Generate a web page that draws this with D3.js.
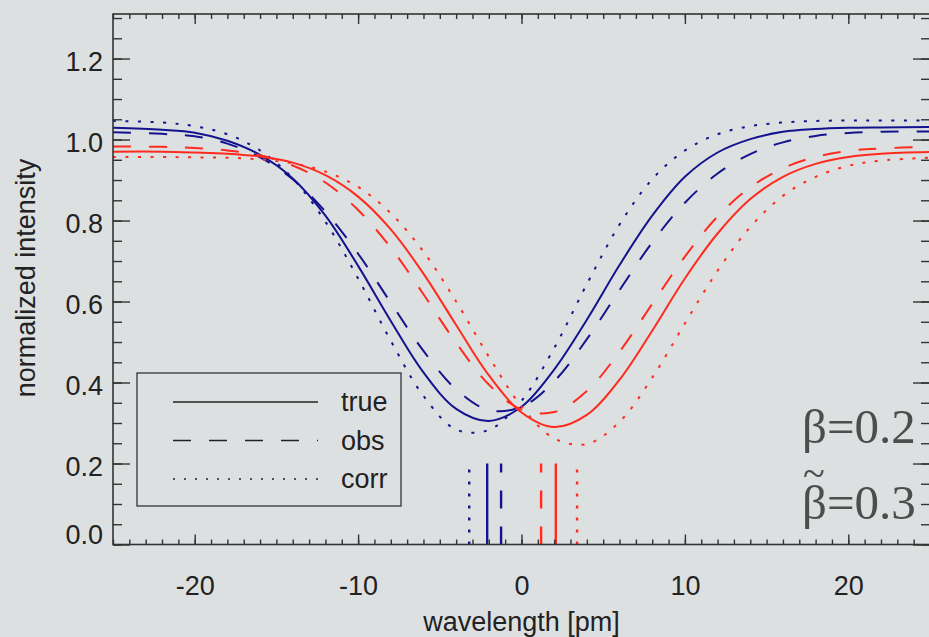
<!DOCTYPE html>
<html>
<head>
<meta charset="utf-8">
<script src="https://cdn.jsdelivr.net/npm/d3@7"></script>
<style>
  html, body { margin: 0; padding: 0; background: #dde0e1; }
  svg { display: block; font-family: "Liberation Sans", Arial, Helvetica, sans-serif; }
</style>
</head>
<body>
<div id="chart"></div>
<script>
// wavelength grid [pm] and line profiles
var wavelength = [-25, -22, -20, -18, -16, -14, -12, -10, -8, -6, -4, -2, 0, 2, 4, 6, 8, 10, 12, 14, 16, 18, 20, 22, 25];

var blueTrue = [1.029, 1.024, 1.017, 0.997, 0.962, 0.904, 0.812, 0.688, 0.552, 0.425, 0.335, 0.305, 0.340, 0.432, 0.555, 0.690, 0.812, 0.908, 0.968, 1.001, 1.019, 1.026, 1.029, 1.030, 1.031];
var blueObs  = [1.018, 1.014, 1.008, 0.990, 0.956, 0.902, 0.822, 0.718, 0.597, 0.478, 0.383, 0.332, 0.340, 0.403, 0.507, 0.628, 0.746, 0.844, 0.916, 0.964, 0.993, 1.009, 1.016, 1.019, 1.020];
var blueCorr = [1.046, 1.042, 1.033, 1.013, 0.973, 0.904, 0.797, 0.657, 0.503, 0.367, 0.284, 0.283, 0.355, 0.485, 0.643, 0.790, 0.902, 0.973, 1.013, 1.033, 1.042, 1.046, 1.047, 1.047, 1.047];
var redTrue  = [0.970, 0.970, 0.968, 0.965, 0.958, 0.943, 0.912, 0.859, 0.778, 0.669, 0.542, 0.418, 0.326, 0.290, 0.320, 0.407, 0.528, 0.657, 0.768, 0.853, 0.908, 0.940, 0.957, 0.965, 0.969];
var redObs   = [0.983, 0.982, 0.979, 0.973, 0.961, 0.936, 0.894, 0.826, 0.733, 0.618, 0.498, 0.395, 0.333, 0.327, 0.379, 0.476, 0.594, 0.711, 0.810, 0.882, 0.929, 0.957, 0.972, 0.978, 0.982];
var redCorr  = [0.957, 0.957, 0.956, 0.955, 0.951, 0.941, 0.921, 0.883, 0.818, 0.723, 0.600, 0.464, 0.341, 0.262, 0.248, 0.303, 0.412, 0.546, 0.676, 0.784, 0.861, 0.908, 0.935, 0.948, 0.955];

// line centres [pm] marked at the bottom
var centreWl   = [-3.2, -2.1, -1.25, 1.2, 2.1, 3.4];
var centreKind = ['corr', 'true', 'obs', 'obs', 'true', 'corr'];
var centreCol  = ['blue', 'blue', 'blue', 'red', 'red', 'red'];

var legendLabels = ['true', 'obs', 'corr'];
var xTicks = [-20, -10, 0, 10, 20];
var yTicks = [0.0, 0.2, 0.4, 0.6, 0.8, 1.0, 1.2];

var W = 929, H = 637;
var colors = { blue: '#13138e', red: '#ff2b1f' };
var dashes = { 'true': null, 'obs': '18,18', 'corr': '3,9.5' };
var fontSize = 27;

var x = d3.scaleLinear().domain([-25, 25]).range([113, 930]);
var y = d3.scaleLinear().domain([0, 1.31]).range([544.5, 14]);

var svg = d3.select('#chart').append('svg')
    .attr('width', W)
    .attr('height', H);

svg.append('rect').attr('width', W).attr('height', H).attr('fill', '#dde0e1');

var series = [
    { values: blueTrue, col: 'blue', kind: 'true' },
    { values: blueObs,  col: 'blue', kind: 'obs' },
    { values: blueCorr, col: 'blue', kind: 'corr' },
    { values: redTrue,  col: 'red',  kind: 'true' },
    { values: redObs,   col: 'red',  kind: 'obs' },
    { values: redCorr,  col: 'red',  kind: 'corr' }
];

var line = d3.line()
    .x(function(d) { return x(d[0]); })
    .y(function(d) { return y(d[1]); })
    .curve(d3.curveCatmullRom.alpha(0.5));

var plot = svg.append('g');
series.forEach(function(s) {
    var pts = wavelength.map(function(w, i) { return [w, s.values[i]]; });
    plot.append('path')
        .attr('d', line(pts))
        .attr('fill', 'none')
        .attr('stroke', colors[s.col])
        .attr('stroke-width', 2)
        .attr('stroke-dasharray', dashes[s.kind]);
});

// centre markers, drawn from bottom up
centreWl.forEach(function(w, i) {
    plot.append('path')
        .attr('d', d3.line()([[x(w), y(0)], [x(w), y(0.2)]]))
        .attr('fill', 'none')
        .attr('stroke', colors[centreCol[i]])
        .attr('stroke-width', 2.4)
        .attr('stroke-dasharray', centreKind[i] == 'corr' ? '3,9' : dashes[centreKind[i]]);
});

// axes: ticks pointing inward on all four sides
var axisCol = '#333';
function styleAxis(g) {
    g.select('.domain').remove();
    g.selectAll('line').attr('stroke', axisCol).attr('stroke-width', 1.4);
}
var xMinor = d3.range(-25, 26, 1);
var yMinor = d3.range(0, 1.31, 0.05);

svg.append('g').attr('transform', 'translate(0,' + y(0) + ')')
    .call(d3.axisBottom(x).tickValues(xMinor).tickSize(-5).tickFormat('')).call(styleAxis);
svg.append('g').attr('transform', 'translate(0,' + y(0) + ')')
    .call(d3.axisBottom(x).tickValues(xTicks).tickSize(-10).tickFormat('')).call(styleAxis);
svg.append('g').attr('transform', 'translate(0,' + y.range()[1] + ')')
    .call(d3.axisTop(x).tickValues(xMinor).tickSize(-5).tickFormat('')).call(styleAxis);
svg.append('g').attr('transform', 'translate(0,' + y.range()[1] + ')')
    .call(d3.axisTop(x).tickValues(xTicks).tickSize(-10).tickFormat('')).call(styleAxis);
svg.append('g').attr('transform', 'translate(' + x(-25) + ',0)')
    .call(d3.axisLeft(y).tickValues(yMinor).tickSize(-9).tickFormat('')).call(styleAxis);
svg.append('g').attr('transform', 'translate(' + x(-25) + ',0)')
    .call(d3.axisLeft(y).tickValues(yTicks).tickSize(-17).tickFormat('')).call(styleAxis);
svg.append('g').attr('transform', 'translate(' + x(25) + ',0)')
    .call(d3.axisRight(y).tickValues(yMinor).tickSize(-9).tickFormat('')).call(styleAxis);
svg.append('g').attr('transform', 'translate(' + x(25) + ',0)')
    .call(d3.axisRight(y).tickValues(yTicks).tickSize(-17).tickFormat('')).call(styleAxis);

svg.append('rect')
    .attr('x', x(-25)).attr('y', y.range()[1])
    .attr('width', x(25) - x(-25)).attr('height', y(0) - y.range()[1])
    .attr('fill', 'none').attr('stroke', axisCol).attr('stroke-width', 1.6);

// tick labels (plain hyphen for negatives, as in the original)
var xl = svg.append('g').attr('transform', 'translate(0,' + y(0) + ')')
    .call(d3.axisBottom(x).tickValues(xTicks).tickSize(0).tickPadding(31)
        .tickFormat(function(d) { return String(d); }));
xl.select('.domain').remove();
xl.selectAll('text').attr('font-size', fontSize).attr('fill', '#222')
    .attr('font-family', '"Liberation Sans", Arial, sans-serif');

var yl = svg.append('g').attr('transform', 'translate(' + x(-25) + ',0)')
    .call(d3.axisLeft(y).tickValues(yTicks).tickSize(0).tickPadding(10).tickFormat(d3.format('.1f')));
yl.select('.domain').remove();
yl.selectAll('text').attr('font-size', fontSize).attr('fill', '#222')
    .attr('font-family', '"Liberation Sans", Arial, sans-serif')
    .attr('dy', function(d) { return d == 0 ? '-0.03em' : '0.44em'; });

// axis titles
svg.append('text')
    .attr('x', x(0)).attr('y', 631)
    .attr('text-anchor', 'middle')
    .attr('font-size', fontSize).attr('fill', '#222')
    .text('wavelength [pm]');
svg.append('text')
    .attr('transform', 'translate(35,' + 278 + ') rotate(-90)')
    .attr('text-anchor', 'middle')
    .attr('font-size', fontSize).attr('fill', '#222')
    .text('normalized intensity');

// legend
var lg = svg.append('g');
lg.append('rect')
    .attr('x', 137).attr('y', 373).attr('width', 264).attr('height', 133)
    .attr('fill', 'none').attr('stroke', '#333').attr('stroke-width', 1.3);
legendLabels.forEach(function(lab, i) {
    var ly = 402 + i * 38.5;
    lg.append('path')
        .attr('d', d3.line()([[173, ly], [318, ly]]))
        .attr('stroke', '#222').attr('stroke-width', 1.3)
        .attr('stroke-dasharray', lab == 'corr' ? '2,9' : dashes[lab]);
    lg.append('text')
        .attr('x', 341).attr('y', ly + 9)
        .attr('font-size', fontSize).attr('fill', '#222')
        .text(lab);
});

// beta annotations, one text block (the tilde is the accent over the second beta)
var serif = '"Liberation Serif", "Times New Roman", serif';
var beta = svg.append('text')
    .attr('font-family', serif).attr('font-size', 49).attr('fill', '#4d4d4d');
beta.append('tspan').attr('x', 802).attr('y', 443).text('β=0.2');
beta.append('tspan').attr('x', 803).attr('y', 487).attr('font-size', 40).text('~');
beta.append('tspan').attr('x', 802).attr('y', 519).text('β=0.3');
</script>
</body>
</html>
